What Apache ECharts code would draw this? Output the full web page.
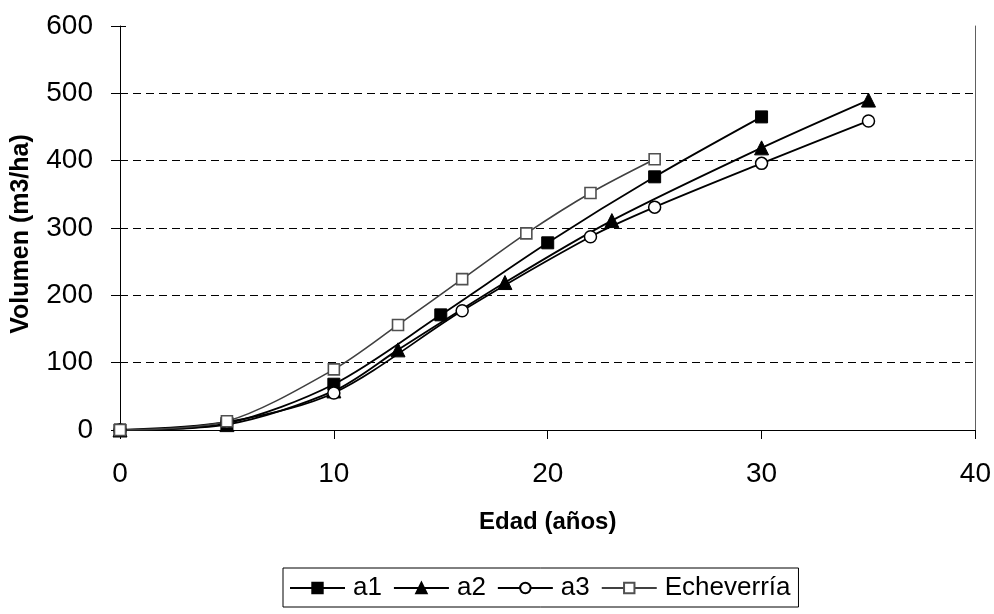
<!DOCTYPE html>
<html>
<head>
<meta charset="utf-8">
<script src="https://cdn.jsdelivr.net/npm/echarts@6/dist/echarts.min.js"></script>
<style>
  html, body { margin: 0; padding: 0; background: #fff; }
  #chart { width: 994px; height: 614px; }
</style>
</head>
<body>
<div id="chart"></div>
<script>
// Volume growth by age for three site classes and the Echeverría reference curve
const ageA1 = [0, 5, 10, 15, 20, 25, 30];
const volA1 = [0, 10, 68, 171, 278, 376, 465];

const ageA2 = [0, 5, 10, 13, 18, 23, 30, 35];
const volA2 = [0, 8, 58, 119, 219, 311, 419, 490];

const ageA3 = [0, 5, 10, 16, 22, 25, 30, 35];
const volA3 = [0, 12, 55, 177, 287, 331, 396, 459];

const ageEch = [0, 5, 10, 13, 16, 19, 22, 25];
const volEch = [0, 13, 90, 156, 224, 292, 352, 402];

const xTicks = { min: 0, max: 40, interval: 10 };
const yTicks = { min: 0, max: 600, interval: 100 };

const seriesNames = ['a1', 'a2', 'a3', 'Echeverría'];

function pairs(xs, ys) {
  return xs.map((x, i) => [x, ys[i]]);
}

const FONT = '"Liberation Sans", Arial, sans-serif';

const chart = echarts.init(document.getElementById('chart'), null, { renderer: 'canvas' });

const lineBase = {
  type: 'line',
  smooth: 0.3,
  showAllSymbol: true,
  z: 3
};

chart.setOption({
  animation: false,
  backgroundColor: '#ffffff',
  textStyle: { fontFamily: FONT },
  grid: { left: 120, right: 17, top: 26, bottom: 184, containLabel: false },
  legend: {
    data: seriesNames,
    top: 568,
    left: 283,
    orient: 'horizontal',
    borderColor: '#000',
    borderWidth: 1,
    borderRadius: 0,
    padding: [7, 8, 6, 6],
    itemWidth: 55,
    itemHeight: 13,
    itemGap: 11,
    textStyle: { fontFamily: FONT, fontSize: 26, color: '#000', padding: [0, 0, 0, 3] }
  },
  xAxis: {
    type: 'value',
    min: xTicks.min, max: xTicks.max, interval: xTicks.interval,
    name: 'Edad (años)',
    nameLocation: 'middle',
    nameGap: 80,
    nameTextStyle: { fontFamily: FONT, fontSize: 24, fontWeight: 'bold', color: '#000' },
    axisLine: { show: true, onZero: false, lineStyle: { color: '#000', width: 1 } },
    axisTick: { show: true, inside: false, length: 9, lineStyle: { color: '#000' } },
    axisLabel: { fontFamily: FONT, fontSize: 28, color: '#000', margin: 30 },
    splitLine: { show: false }
  },
  yAxis: [
    {
      type: 'value',
      min: yTicks.min, max: yTicks.max, interval: yTicks.interval,
      name: 'Volumen (m3/ha)',
      nameLocation: 'middle',
      nameGap: 86,
      nameRotate: 90,
      nameTextStyle: { fontFamily: FONT, fontSize: 25, fontWeight: 'bold', color: '#000', padding: [0, 12, 0, 0] },
      axisLine: { show: true, lineStyle: { color: '#000', width: 1 } },
      axisTick: { show: true, inside: false, length: 9, lineStyle: { color: '#000' } },
      axisLabel: { fontFamily: FONT, fontSize: 28, color: '#000', margin: 27 },
      splitLine: {
        show: true,
        lineStyle: {
          color: ['transparent', '#000', '#000', '#000', '#000', '#000', 'transparent'],
          type: [8, 5],
          width: 1
        }
      }
    },
    {
      // inner half of the crossing tick marks on the vertical axis
      type: 'value',
      position: 'left',
      min: yTicks.min, max: yTicks.max, interval: yTicks.interval,
      axisLine: { show: false },
      axisTick: { show: true, inside: true, length: 6, lineStyle: { color: '#000' } },
      axisLabel: { show: false },
      splitLine: { show: false }
    },
    {
      // right edge of the plot frame
      type: 'value',
      position: 'right',
      min: yTicks.min, max: yTicks.max, interval: yTicks.interval,
      axisLine: { show: true, lineStyle: { color: '#606060', width: 1 } },
      axisTick: { show: false },
      axisLabel: { show: false },
      splitLine: { show: false }
    }
  ],
  series: [
    Object.assign({}, lineBase, {
      name: seriesNames[0],
      data: pairs(ageA1, volA1),
      symbol: 'rect',
      symbolSize: 12,
      lineStyle: { color: '#000', width: 1.8 },
      itemStyle: { color: '#000', borderColor: '#000', borderWidth: 1 }
    }),
    Object.assign({}, lineBase, {
      name: seriesNames[1],
      data: pairs(ageA2, volA2),
      symbol: 'triangle',
      symbolSize: 14,
      lineStyle: { color: '#000', width: 1.8 },
      itemStyle: { color: '#000', borderColor: '#000', borderWidth: 1 }
    }),
    Object.assign({}, lineBase, {
      name: seriesNames[2],
      data: pairs(ageA3, volA3),
      symbol: 'circle',
      symbolSize: 12,
      lineStyle: { color: '#000', width: 1.8 },
      itemStyle: { color: '#fff', borderColor: '#000', borderWidth: 1.5 }
    }),
    Object.assign({}, lineBase, {
      name: seriesNames[3],
      data: pairs(ageEch, volEch),
      symbol: 'rect',
      symbolSize: 11,
      lineStyle: { color: '#404040', width: 1.6 },
      itemStyle: { color: '#fff', borderColor: '#505050', borderWidth: 1.6 }
    })
  ]
});
</script>
</body>
</html>
